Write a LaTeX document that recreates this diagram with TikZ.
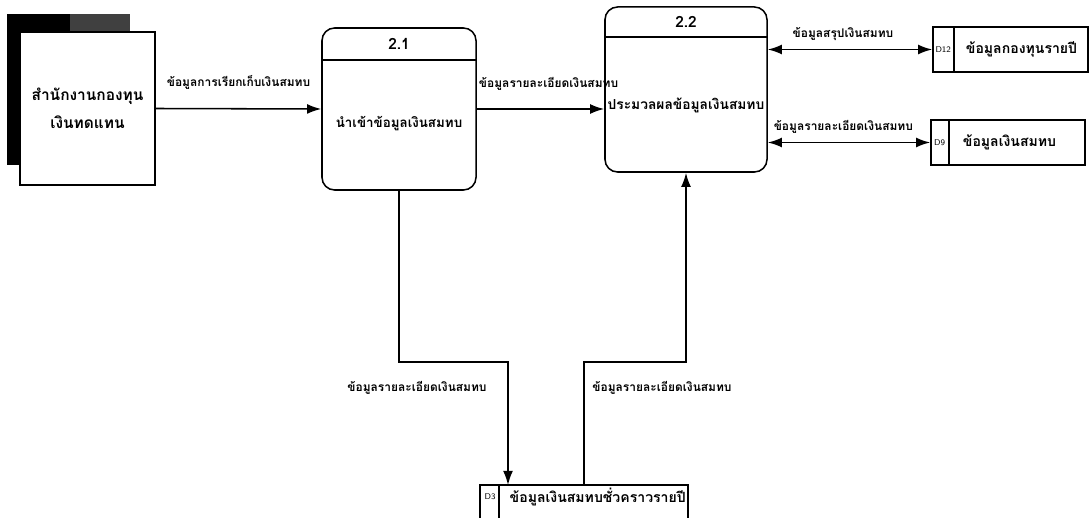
\documentclass[tikz,border=0pt]{standalone}
\usepackage{fontspec}
\newfontfamily\thaifont[Script=Thai]{Loma}
\usetikzlibrary{arrows.meta, calc}

\tikzset{
  flow/.style={line width=1.1pt, -{Latex[length=10pt, width=7pt]}},
  twoway/.style={line width=1.1pt, {Latex[length=10pt, width=7pt]}-{Latex[length=10pt, width=7pt]}},
  proc/.style={draw, line width=1.1pt, rounded corners=9pt, fill=white},
  store/.style={draw, line width=1.1pt, minimum height=1.125cm},
  lbl/.style={font=\thaifont\bfseries\fontsize{8.5}{10}\selectfont, inner sep=1pt},
  storeid/.style={font=\sffamily\fontsize{6}{7}\selectfont, inner sep=1pt},
}

\begin{document}
\begin{tikzpicture}[x=0.025cm, y=-0.025cm, font=\thaifont\bfseries]
    \useasboundingbox (0,0) rectangle (1092,518);

    % external entity with its shadow
    \fill[black] (7,14) rectangle (130,165);
    \fill[black!75] (70,14) rectangle (130,32);
    \node[draw, line width=1.1pt, fill=white, minimum width=3.375cm, minimum height=3.825cm,
          align=center, font=\thaifont\bfseries\fontsize{11}{20}\selectfont] (ext) at (87.5,108.5)
          {สำนักงานกองทุน\\เงินทดแทน};

    % processes
    \node[proc, minimum width=3.85cm, minimum height=4.05cm] (p1) at (399,109) {};
    \draw[line width=1.1pt] (p1.west |- 0,60) -- (p1.east |- 0,60);
    \node (p1no) at (399,44) {\fontsize{11}{12}\selectfont 2.1};
    \node (p1txt) at (399,124) {\fontsize{9.5}{12}\selectfont นำเข้าข้อมูลเงินสมทบ};

    \node[proc, minimum width=4.05cm, minimum height=4.125cm] (p2) at (686,89.5) {};
    \draw[line width=1.1pt] (p2.west |- 0,37) -- (p2.east |- 0,37);
    \node (p2no) at (686,22) {\fontsize{11}{12}\selectfont 2.2};
    \node (p2txt) at (686,105) {\fontsize{9.8}{12}\selectfont ประมวลผลข้อมูลเงินสมทบ};

    % data stores
    \node[store, minimum width=3.875cm] (d12) at (1010.5,49.5) {};
    \draw[line width=1.1pt] ($(d12.north west)+(22,0)$) -- ($(d12.south west)+(22,0)$);
    \node[storeid] (d12id) at ($(d12.west)+(11,0)$) {D12};
    \node[lbl, anchor=west] (d12txt) at ($(d12.west)+(32,0)$) {\fontsize{10}{12}\selectfont ข้อมูลกองทุนรายปี};

    \node[store, minimum width=3.85cm] (d9) at (1008,142.5) {};
    \draw[line width=1.1pt] ($(d9.north west)+(19,0)$) -- ($(d9.south west)+(19,0)$);
    \node[storeid] (d9id) at ($(d9.west)+(9.5,0)$) {D9};
    \node[lbl, anchor=west] (d9txt) at ($(d9.west)+(31,0)$) {\fontsize{10}{12}\selectfont ข้อมูลเงินสมทบ};

    \node[store, minimum width=5.2cm] (d3) at (584,507.5) {};
    \draw[line width=1.1pt] ($(d3.north west)+(20,0)$) -- ($(d3.south west)+(20,0)$);
    \node[storeid] (d3id) at (490,497) {D3};
    \node[lbl, anchor=west] (d3txt) at (508,497) {\fontsize{10}{12}\selectfont ข้อมูลเงินสมทบชั่วคราวรายปี};

    % flows
    \draw[flow] (ext.east) -- (p1.west)
        node[lbl, midway, above=12pt] {ข้อมูลการเรียกเก็บเงินสมทบ};
    \draw[flow] (p1.east) -- (p1.east -| p2.west)
        node[lbl, pos=0, anchor=south west, yshift=12pt] {ข้อมูลรายละเอียดเงินสมทบ};
    \draw[twoway] (d12.west -| p2.east) -- (d12.west)
        node[lbl, midway, above=5pt, xshift=-5pt] {ข้อมูลสรุปเงินสมทบ};
    \draw[twoway] (d9.west -| p2.east) -- (d9.west)
        node[lbl, midway, above=5pt, xshift=-4pt] {ข้อมูลรายละเอียดเงินสมทบ};

    \coordinate (turn) at (0,362);
    \coordinate (in3) at (508,485);
    \draw[flow] (p1.south) -- (p1.south |- turn) -- (in3 |- turn) -- (in3);
    \node[lbl] (downlbl) at (417,388) {ข้อมูลรายละเอียดเงินสมทบ};
    \draw[flow] (d3.north) -- (d3.north |- turn) -| (p2.south);
    \node[lbl] (uplbl) at (662,388) {ข้อมูลรายละเอียดเงินสมทบ};
\end{tikzpicture}
\end{document}
